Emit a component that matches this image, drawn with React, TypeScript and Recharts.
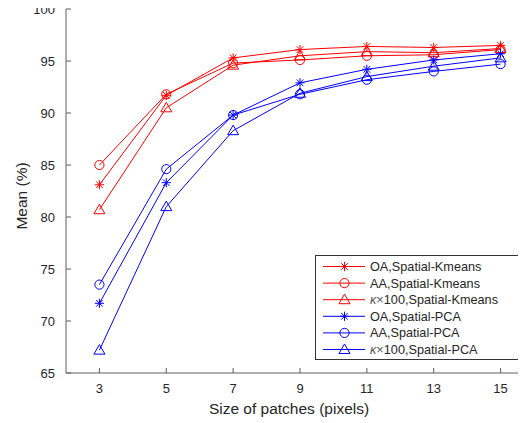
import React from 'react';
import { LineChart, Line, XAxis, YAxis, Label } from 'recharts';

// Patch sizes (pixels) on the x axis
const patchSizes = [3, 5, 7, 9, 11, 13, 15];
const xTicks = [3, 5, 7, 9, 11, 13, 15];
const yTicks = [65, 70, 75, 80, 85, 90, 95, 100];

// Mean accuracy (%) per patch size
const oaKmeans = [83.1, 91.7, 95.3, 96.1, 96.4, 96.3, 96.5];
const aaKmeans = [85.0, 91.8, 94.8, 95.1, 95.5, 95.6, 96.1];
const kappaKmeans = [80.7, 90.5, 94.6, 95.5, 95.9, 95.8, 96.2];
const oaPca = [71.7, 83.3, 89.8, 92.9, 94.2, 95.1, 95.7];
const aaPca = [73.5, 84.6, 89.8, 91.8, 93.2, 94.0, 94.7];
const kappaPca = [67.2, 81.0, 88.3, 91.9, 93.5, 94.5, 95.3];

const RED = '#ff0000';
const BLUE = '#0000ff';
const AXIS = '#5e5e5e';
const TEXT = '#262626';
const FONT = '"Liberation Sans", Arial, Helvetica, sans-serif';

type MarkerKind = 'star' | 'circle' | 'triangle';

const series: { key: string; name: string; kappa: boolean; color: string; marker: MarkerKind; values: number[] }[] = [
  { key: 'oaK', name: 'OA,Spatial-Kmeans', kappa: false, color: RED, marker: 'star', values: oaKmeans },
  { key: 'aaK', name: 'AA,Spatial-Kmeans', kappa: false, color: RED, marker: 'circle', values: aaKmeans },
  { key: 'kK', name: '100,Spatial-Kmeans', kappa: true, color: RED, marker: 'triangle', values: kappaKmeans },
  { key: 'oaP', name: 'OA,Spatial-PCA', kappa: false, color: BLUE, marker: 'star', values: oaPca },
  { key: 'aaP', name: 'AA,Spatial-PCA', kappa: false, color: BLUE, marker: 'circle', values: aaPca },
  { key: 'kP', name: '100,Spatial-PCA', kappa: true, color: BLUE, marker: 'triangle', values: kappaPca },
];

const data = patchSizes.map((x, i) => {
  const row: Record<string, number> = { x };
  series.forEach((s) => {
    row[s.key] = s.values[i];
  });
  return row;
});

function Marker({ kind, cx, cy, color }: { kind: MarkerKind; cx: number; cy: number; color: string }) {
  if (kind === 'circle') {
    return <circle cx={cx} cy={cy} r={4.6} fill="none" stroke={color} strokeWidth={1} />;
  }
  if (kind === 'triangle') {
    const p = `${cx},${cy - 5.5} ${cx - 5.5},${cy + 4} ${cx + 5.5},${cy + 4}`;
    return <polygon points={p} fill="none" stroke={color} strokeWidth={1} />;
  }
  const r = 4.6;
  const d = r * 0.72;
  return (
    <g stroke={color} strokeWidth={1}>
      <line x1={cx} y1={cy - r} x2={cx} y2={cy + r} />
      <line x1={cx - r} y1={cy} x2={cx + r} y2={cy} />
      <line x1={cx - d} y1={cy - d} x2={cx + d} y2={cy + d} />
      <line x1={cx - d} y1={cy + d} x2={cx + d} y2={cy - d} />
    </g>
  );
}

const makeDot = (kind: MarkerKind, color: string) => (props: any) => {
  const { cx, cy, index } = props;
  if (cx == null || cy == null) return <g key={`d-${index}`} />;
  return (
    <g key={`d-${kind}-${color}-${index}`}>
      <Marker kind={kind} cx={cx} cy={cy} color={color} />
    </g>
  );
};

// Inward tick marks with labels placed at the exact tick coordinate
const BottomTick = (props: any) => {
  const { y, payload } = props;
  const x = payload.coordinate;
  return (
    <g>
      <line x1={x} y1={y} x2={x} y2={y - 5} stroke={AXIS} strokeWidth={1} />
      <text x={x} y={y + 20} textAnchor="middle" fill={TEXT} fontSize={13} fontFamily={FONT}>
        {payload.value}
      </text>
    </g>
  );
};

const TopTick = (props: any) => {
  const { y, payload } = props;
  const x = payload.coordinate;
  return <line x1={x} y1={y} x2={x} y2={y + 5} stroke={AXIS} strokeWidth={1} />;
};

const LeftTick = (props: any) => {
  const { x, payload } = props;
  const y = payload.coordinate;
  return (
    <g>
      <line x1={x} y1={y} x2={x + 5} y2={y} stroke={AXIS} strokeWidth={1} />
      <text x={x - 11} y={y + 4.6} textAnchor="end" fill={TEXT} fontSize={13} fontFamily={FONT}>
        {payload.value}
      </text>
    </g>
  );
};

const YTitle = (props: any) => {
  const { viewBox } = props;
  const cx = viewBox.x + 13;
  const cy = viewBox.y + viewBox.height / 2 + 5;
  return (
    <text
      x={cx}
      y={cy}
      transform={`rotate(-90, ${cx}, ${cy})`}
      textAnchor="middle"
      dominantBaseline="central"
      fill={TEXT}
      fontSize={15.5}
      fontFamily={FONT}
    >
      Mean (%)
    </text>
  );
};

// Boxed legend listing the six series with their line and marker
const LegendBox = () => {
  const rowGap = 16.6;
  return (
    <svg width={208} height={106} style={{ display: 'block' }}>
      <rect x={0.5} y={0.5} width={206} height={104} fill="#fff" stroke="#333" strokeWidth={1} />
      {series.map((s, i) => {
        const cy = 11.5 + i * rowGap;
        return (
          <g key={s.key}>
            <line x1={8} y1={cy} x2={50} y2={cy} stroke={s.color} strokeWidth={1} />
            <Marker kind={s.marker} cx={29.5} cy={cy} color={s.color} />
            <text x={55} y={cy + 4.5} fill={TEXT} fontSize={12.7} fontFamily={FONT}>
              {s.kappa ? (
                <>
                  <tspan fontStyle="italic" fill="#555">κ</tspan>
                  <tspan fill="#555">×</tspan>
                  <tspan>{s.name}</tspan>
                </>
              ) : (
                s.name
              )}
            </text>
          </g>
        );
      })}
    </svg>
  );
};

export default function App() {
  return (
    <div style={{ width: 518, height: 423, marginTop: -8, overflow: 'hidden', position: 'relative' }}>
      <LineChart width={540} height={423} data={data} margin={{ top: 9, right: 14, bottom: 20, left: 0 }}>
        <XAxis
          xAxisId="bottom"
          dataKey="x"
          type="number"
          domain={[2, 16]}
          ticks={xTicks}
          interval={0}
          orientation="bottom"
          height={30}
          tickSize={0}
          tickMargin={0}
          tickLine={false}
          tick={<BottomTick />}
          stroke={AXIS}
          label={{
            value: 'Size of patches (pixels)',
            position: 'insideBottom',
            offset: -11,
            dx: -11,
            fill: TEXT,
            fontSize: 15.5,
            fontFamily: FONT,
          }}
        />
        <XAxis
          xAxisId="top"
          dataKey="x"
          type="number"
          domain={[2, 16]}
          ticks={xTicks}
          interval={0}
          orientation="top"
          height={0}
          tickSize={0}
          tickMargin={0}
          tickLine={false}
          tick={<TopTick />}
          stroke={AXIS}
        />
        <YAxis
          type="number"
          domain={[65, 100]}
          ticks={yTicks}
          interval={0}
          width={58}
          tickSize={0}
          tickMargin={0}
          tickLine={false}
          tick={<LeftTick />}
          stroke={AXIS}
        >
          <Label content={<YTitle />} />
        </YAxis>
        {series.map((s) => (
          <Line
            key={s.key}
            xAxisId="bottom"
            dataKey={s.key}
            name={s.name}
            type="linear"
            stroke={s.color}
            strokeWidth={1}
            dot={makeDot(s.marker, s.color)}
            activeDot={false}
            isAnimationActive={false}
          />
        ))}
      </LineChart>
      <div style={{ position: 'absolute', left: 307, top: 255 }}>
        <LegendBox />
      </div>
    </div>
  );
}
